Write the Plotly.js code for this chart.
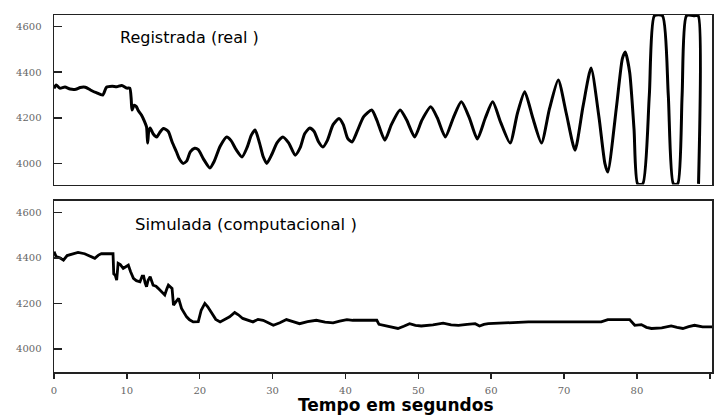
<!DOCTYPE html>
<html>
<head>
<meta charset="utf-8">
<script src="https://cdn.plot.ly/plotly-3.0.1.min.js"></script>
<style>html,body{margin:0;padding:0;background:#fff;}#chart{width:714px;height:416px;}</style>
</head>
<body>
<div id="chart"></div>
<script>
// Registrada (real) — top panel
const realTime = [0,0.3,0.8,1.5,2.2,3.0,3.6,4.3,5.0,5.8,6.7,7.2,8.0,8.6,9.3,10.0,10.4,10.6,10.7,11.0,11.3,11.6,12.0,12.4,12.7,12.85,13.0,13.2,13.6,14.1,14.5,15.0,15.3,15.7,16.2,16.8,17.2,17.7,18.2,18.7,19.3,19.8,20.5,21.4,22.0,22.8,23.7,24.3,25.0,25.8,26.5,27.1,27.6,28.2,28.7,29.2,29.9,30.6,31.4,32.2,33.1,33.8,34.4,35.1,35.7,36.3,36.9,37.5,38.3,39.1,39.7,40.3,40.9,41.6,42.5,43.6,44.3,45.4,46.3,47.5,48.4,49.5,50.5,51.7,52.6,53.7,54.8,55.9,57.0,58.1,59.2,60.2,61.3,62.6,63.6,64.6,65.7,66.9,68.0,69.2,70.3,71.5,72.6,73.7,74.8,75.6,76.0,77.2,78.0,78.4,79.0,79.6,80.1,80.8,81.7,82.4,83.5,84.3,85.0,85.6,86.2,86.8,87.9,88.4,88.45];
const realValue = [4329,4344,4330,4335,4326,4325,4333,4334,4322,4310,4300,4334,4338,4336,4342,4330,4330,4280,4234,4255,4249,4230,4212,4185,4160,4089,4140,4155,4130,4116,4135,4153,4150,4139,4095,4051,4020,4000,4010,4050,4066,4060,4020,3980,4010,4075,4116,4100,4060,4028,4070,4125,4146,4090,4030,4000,4040,4090,4116,4090,4036,4070,4130,4155,4140,4095,4072,4100,4170,4197,4170,4110,4094,4140,4205,4234,4190,4102,4170,4234,4190,4116,4190,4248,4200,4116,4200,4270,4200,4107,4200,4270,4180,4089,4220,4314,4200,4089,4240,4366,4220,4058,4250,4418,4200,4000,3962,4250,4460,4489,4400,4150,3910,3910,4300,4648,4648,4300,3910,3910,4300,4648,4648,4648,3910];

// Simulada (computacional) — bottom panel
const simTime = [0,0.3,0.8,1.3,1.8,2.5,3.3,4.2,5.0,5.6,6.1,6.5,7.5,8.1,8.2,8.4,8.6,8.7,8.8,9.1,9.5,9.8,10.2,10.5,10.9,11.3,11.8,12.1,12.3,12.5,12.7,12.9,13.2,13.6,14.0,14.3,14.8,15.2,15.5,15.7,16.2,16.4,16.8,17.1,17.5,18.2,18.6,19.1,19.8,20.2,20.7,21.1,21.6,22.2,22.8,23.5,24.1,24.8,25.3,25.9,26.6,27.3,28.0,28.7,29.4,30.1,31.0,31.9,32.8,33.7,34.8,36.0,37.2,38.3,39.2,40.2,41.0,42.0,43.5,44.3,44.6,45.2,45.8,46.5,47.2,48.0,48.8,49.6,50.4,52.0,53.4,54.5,55.5,56.7,57.8,58.4,59.0,59.6,61.5,63.2,65.1,70.0,75.1,76.0,78.0,79.0,79.7,80.6,81.3,82.0,83.4,84.7,85.5,86.3,87.1,87.9,89.0,90.3];
const simValue = [4427,4405,4400,4390,4410,4418,4424,4418,4405,4398,4412,4418,4418,4418,4330,4324,4302,4340,4376,4370,4354,4360,4368,4340,4310,4300,4295,4320,4320,4290,4273,4300,4317,4280,4275,4266,4250,4237,4265,4280,4266,4192,4210,4222,4178,4141,4128,4119,4120,4170,4200,4185,4160,4130,4119,4130,4141,4160,4150,4134,4125,4119,4130,4126,4115,4104,4115,4129,4120,4111,4120,4126,4118,4115,4122,4129,4126,4126,4128,4126,4108,4104,4101,4095,4090,4100,4111,4104,4101,4106,4113,4106,4104,4108,4111,4101,4108,4111,4113,4115,4119,4119,4119,4129,4129,4129,4104,4107,4095,4090,4093,4101,4095,4090,4098,4104,4097,4097];

const xTicks = [0,10,20,30,40,50,60,70,80,90];
const yTicks = [4000,4200,4400,4600];
const topLabel = 'Registrada (real )';
const bottomLabel = 'Simulada (computacional )';
const xTitle = 'Tempo em segundos';

const tickFont = {family: 'DejaVu Serif', size: 10, color: '#666'};
const frame = {showline: true, mirror: true, linecolor: '#222', linewidth: 1.5, zeroline: false, showgrid: false};

const traces = [
  {x: realTime, y: realValue, type: 'scatter', mode: 'lines', line: {color: '#000', width: 3, shape: 'spline', smoothing: 0.6}, xaxis: 'x', yaxis: 'y', hoverinfo: 'skip'},
  {x: simTime, y: simValue, type: 'scatter', mode: 'lines', line: {color: '#000', width: 2.8}, xaxis: 'x2', yaxis: 'y2', hoverinfo: 'skip'}
];

const layout = {
  width: 714, height: 416,
  margin: {l: 54, r: 2, t: 15, b: 44},
  paper_bgcolor: '#fff', plot_bgcolor: '#fff',
  showlegend: false,
  xaxis: Object.assign({}, frame, {domain: [0, 1], range: [0, 90.3], showticklabels: false, ticks: '', anchor: 'y'}),
  yaxis: Object.assign({}, frame, {domain: [0.525, 1], range: [3907, 4651], tickvals: yTicks, ticktext: yTicks.map(String), ticks: 'inside', ticklen: 8, tickwidth: 1.5, tickcolor: '#222', tickfont: tickFont, ticklabelstandoff: 9, anchor: 'x'}),
  xaxis2: Object.assign({}, frame, {domain: [0, 1], range: [0, 90.3], tickvals: xTicks, ticktext: xTicks.map(String), ticks: 'outside', ticklen: 5, tickwidth: 1.5, tickcolor: '#222', tickfont: tickFont, ticklabelstandoff: 3, anchor: 'y2'}),
  yaxis2: Object.assign({}, frame, {domain: [0, 0.48], range: [3899, 4651], tickvals: yTicks, ticktext: yTicks.map(String), ticks: 'inside', ticklen: 8, tickwidth: 1.5, tickcolor: '#222', tickfont: tickFont, ticklabelstandoff: 9, anchor: 'x2'}),
  annotations: [
    {text: topLabel, xref: 'paper', yref: 'paper', x: 0.0973, y: 0.938, xanchor: 'left', yanchor: 'middle', showarrow: false, font: {family: 'DejaVu Sans', size: 16, color: '#000'}},
    {text: bottomLabel, xref: 'paper', yref: 'paper', x: 0.12, y: 0.412, xanchor: 'left', yanchor: 'middle', showarrow: false, font: {family: 'DejaVu Sans', size: 16.5, color: '#000'}},
    {text: '<b>' + xTitle + '</b>', xref: 'paper', yref: 'paper', x: 0.52, y: -0.0924, xanchor: 'center', yanchor: 'middle', showarrow: false, font: {family: 'DejaVu Sans', size: 17, color: '#000'}}
  ]
};

Plotly.newPlot('chart', traces, layout, {staticPlot: true, displayModeBar: false});
</script>
</body>
</html>
